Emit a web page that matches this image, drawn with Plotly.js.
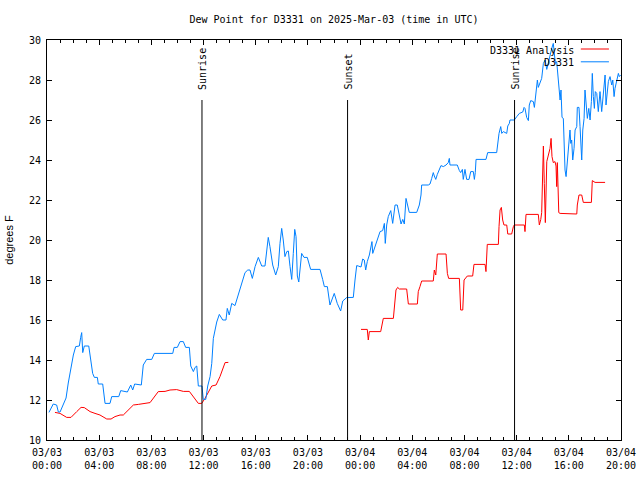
<!DOCTYPE html>
<html>
<head>
<meta charset="utf-8">
<script src="https://cdn.plot.ly/plotly-3.0.1.min.js"></script>
<style>html,body{margin:0;padding:0;background:#fff;}#chart{width:640px;height:480px;}</style>
</head>
<body>
<div id="chart"></div>
<script>
// Hours after 2025-03-03 00:00 UTC
const stationHours = [0.15,0.48,0.74,0.87,1.00,1.46,1.63,1.84,2.02,2.20,2.48,2.58,2.66,2.74,2.86,3.20,3.35,3.50,3.63,3.86,3.93,4.27,4.45,4.83,4.96,5.50,5.65,6.16,6.42,6.57,6.72,7.23,7.38,7.64,8.03,8.23,9.64,9.74,9.99,10.20,10.45,10.63,10.91,11.02,11.22,11.35,11.48,11.60,11.88,11.98,12.17,12.32,12.50,12.63,12.75,12.90,13.01,13.21,13.47,13.72,13.82,13.97,14.16,14.41,14.59,14.80,15.00,15.18,15.39,15.56,15.74,15.95,16.20,16.46,16.71,16.84,16.96,17.09,17.30,17.53,17.73,17.86,17.99,18.11,18.24,18.38,18.50,18.63,18.76,18.88,18.99,19.09,19.19,19.30,19.39,19.52,19.70,19.95,20.21,20.93,21.13,21.26,21.49,21.69,22.02,22.25,22.51,22.67,22.97,23.48,23.61,23.74,23.86,24.07,24.20,24.32,24.43,24.55,24.71,24.81,24.91,24.97,25.14,25.32,25.53,25.73,25.86,25.93,26.04,26.16,26.35,26.50,26.68,26.85,27.01,27.14,27.27,27.39,27.52,27.65,27.77,28.34,28.54,28.67,28.72,29.23,29.36,29.49,29.61,29.69,29.80,29.92,30.05,30.20,30.38,30.59,30.76,30.84,30.89,31.45,31.61,31.71,31.84,31.91,32.04,32.17,32.35,32.48,32.68,32.76,32.83,32.89,33.65,33.78,34.47,34.55,34.65,34.78,34.86,34.98,35.24,35.32,35.44,35.49,35.82,36.01,36.21,36.47,36.57,36.64,36.77,36.90,36.97,37.08,37.28,37.36,37.49,37.59,37.66,37.79,37.92,38.05,38.18,38.31,38.43,38.56,38.69,38.81,38.89,38.97,39.07,39.15,39.23,39.33,39.40,39.48,39.58,39.63,39.71,39.79,39.89,39.96,40.09,40.15,40.22,40.30,40.40,40.48,40.61,40.65,40.78,40.86,40.99,41.07,41.17,41.24,41.32,41.42,41.53,41.63,41.73,41.80,41.88,41.96,42.03,42.14,42.26,42.39,42.52,42.65,42.78,42.85,42.95,43.03,43.16,43.29,43.37,43.47,43.54,43.67,43.80,43.87,43.97];
const stationDewF = [11.38,11.8,11.75,11.4,11.4,12.1,12.85,13.67,14.25,14.67,14.7,15.13,15.37,14.37,14.7,14.7,14.08,13.33,13.13,13.13,12.8,12.8,11.83,11.83,12.17,12.17,12.47,12.4,12.75,12.5,12.8,12.75,13.75,14.03,14.03,14.33,14.33,14.63,14.63,14.92,14.92,14.63,14.63,13.7,13.42,13.63,13.7,12.7,12.7,12.03,12.03,12.7,13.17,13.83,15.08,15.6,15.9,16.28,16.0,16.0,16.58,16.25,16.83,16.72,17.08,17.5,17.92,18.37,18.5,18.5,18.08,18.67,19.13,18.7,18.7,19.33,20.13,19.67,18.75,18.25,18.67,19.83,20.58,20.0,19.17,19.42,19.45,18.67,18.03,19.33,20.53,20.17,18.2,17.9,18.67,19.33,19.13,19.13,18.53,18.53,18.03,17.67,17.67,16.75,17.33,16.83,16.45,16.95,17.12,17.13,18.0,18.72,18.7,18.65,19.05,19.0,18.5,18.92,19.25,19.67,19.92,19.33,19.7,20.0,20.42,20.47,20.83,19.83,20.75,21.17,21.47,20.83,21.75,21.75,21.2,20.8,21.03,20.8,22.08,21.75,21.38,21.38,21.75,22.25,22.75,22.75,22.8,23.08,23.37,23.2,23.03,23.28,23.5,23.72,23.67,23.75,23.87,24.08,23.75,23.75,23.47,23.37,23.53,23.03,23.53,23.03,23.03,23.42,23.42,23.03,23.37,24.03,24.03,24.37,24.37,24.97,25.33,25.67,25.33,25.42,25.33,25.7,25.83,26.0,26.0,26.17,26.33,26.4,26.63,26.58,26.13,25.97,26.75,26.97,26.92,26.63,27.25,28.0,27.63,27.92,28.08,28.83,29.0,28.53,28.92,29.17,29.58,29.83,29.33,28.83,28.92,28.33,27.58,27.0,27.5,26.13,26.08,24.67,23.5,23.17,23.92,24.33,25.5,24.83,25.0,24.0,24.58,25.5,25.67,26.63,26.63,25.67,24.0,25.5,26.08,27.5,26.58,26.08,26.58,26.0,26.92,28.33,27.17,26.58,27.42,27.33,26.42,27.42,26.42,27.42,28.25,26.75,27.33,27.92,28.17,27.75,28.0,27.17,27.58,28.0,28.33,28.17,28.25];

const analysisHours = [0.61,1.00,1.51,1.84,2.28,2.61,2.86,3.30,3.68,4.06,4.58,4.91,5.21,5.60,5.85,6.62,7.00,7.51,7.90,8.53,9.05,9.43,9.94,10.45,10.91,11.60,11.86,12.11,12.37,12.63,12.96,13.26,13.65,13.90,20.00,24.07,24.55,24.63,24.71,25.58,25.66,25.78,26.55,26.62,26.75,26.88,27.01,27.57,27.70,28.39,28.46,28.59,28.72,29.61,29.69,29.80,29.87,29.92,30.59,30.69,30.79,31.61,31.71,31.87,31.97,32.12,32.22,32.63,32.73,33.58,33.65,33.75,34.60,34.65,34.73,34.83,34.93,35.03,35.24,35.32,35.62,35.75,35.82,36.59,36.64,36.72,37.66,37.74,37.85,37.92,38.00,38.05,38.12,38.20,38.31,38.43,38.56,38.64,38.71,38.81,38.94,39.02,39.07,39.12,39.20,39.23,39.33,40.61,40.65,40.78,40.99,41.11,41.73,41.80,42.01,42.78];
const analysisDewF = [11.38,11.33,11.13,11.13,11.42,11.63,11.62,11.42,11.33,11.25,11.05,11.05,11.17,11.25,11.25,11.75,11.78,11.83,11.87,12.42,12.43,12.5,12.52,12.43,12.43,11.83,11.83,12.08,12.37,12.7,12.75,13.17,13.87,13.88,null,15.53,15.53,15.0,15.42,15.42,15.75,16.08,16.08,16.67,17.5,17.63,17.55,17.55,16.8,16.8,17.42,17.67,17.95,17.95,18.5,18.25,18.75,19.3,19.3,18.33,18.08,18.08,16.5,16.5,18.0,18.13,18.2,18.2,18.78,18.78,18.42,19.78,19.78,20.67,21.5,21.63,21.0,20.75,20.75,20.3,20.3,20.67,20.75,20.75,20.42,21.28,21.28,20.75,21.03,21.37,23.17,24.7,22.83,20.87,23.92,24.2,24.58,25.08,24.17,23.87,23.92,23.7,22.67,23.87,22.58,21.37,21.33,21.3,21.75,22.25,22.25,21.88,21.88,22.97,22.88,22.88];

const sunEventHours = [11.88, 23.04, 35.84];
const sunEventLabels = ["Sunrise", "Sunset", "Sunrise"];

const tickHours = [0,4,8,12,16,20,24,28,32,36,40,44];
const tickLabels = ["03/03<br>00:00","03/03<br>04:00","03/03<br>08:00","03/03<br>12:00","03/03<br>16:00","03/03<br>20:00","03/04<br>00:00","03/04<br>04:00","03/04<br>08:00","03/04<br>12:00","03/04<br>16:00","03/04<br>20:00"];

const seriesNames = ["D3331 Analysis", "D3331"];
const seriesColors = ["#ff0000", "#0080ff"];

const BASE = Date.UTC(2025, 2, 3, 0, 0, 0);
function toDate(h) {
  return new Date(BASE + Math.round(h * 3600000)).toISOString().replace('T', ' ').slice(0, 19);
}

const MONO = "DejaVu Sans Mono, monospace";

const traces = [
  {x: analysisHours.map(toDate), y: analysisDewF, name: seriesNames[0], type: 'scatter', mode: 'lines',
   line: {color: seriesColors[0], width: 1}, connectgaps: false, showlegend: false, hoverinfo: 'skip'},
  {x: stationHours.map(toDate), y: stationDewF, name: seriesNames[1], type: 'scatter', mode: 'lines',
   line: {color: seriesColors[1], width: 1}, showlegend: false, hoverinfo: 'skip'}
];

const shapes = sunEventHours.map(h => ({
  type: 'line', xref: 'x', yref: 'paper', x0: toDate(h), x1: toDate(h), y0: 0, y1: 0.85,
  line: {color: '#000', width: 1}
}));

const annotations = sunEventHours.map((h, i) => ({
  xref: 'x', yref: 'paper', x: toDate(h), y: 0.87, text: sunEventLabels[i], textangle: -90,
  showarrow: false, xanchor: 'center', yanchor: 'bottom', font: {family: MONO, size: 10, color: '#000'}
}));

// custom gnuplot-style legend (text on left, sample on right)
const legendY = [0.975, 0.943];
seriesNames.forEach((nm, i) => {
  annotations.push({xref: 'paper', yref: 'paper', x: 0.921, y: legendY[i], text: nm, showarrow: false,
    xanchor: 'right', yanchor: 'middle', font: {family: MONO, size: 10, color: '#000'}});
  shapes.push({type: 'line', xref: 'paper', yref: 'paper', x0: 0.93, x1: 0.979, y0: legendY[i] + 0.0025, y1: legendY[i] + 0.0025,
    line: {color: seriesColors[i], width: 1}});
});

const layout = {
  width: 640, height: 480,
  margin: {l: 47, r: 19, t: 40, b: 40},
  paper_bgcolor: '#fff', plot_bgcolor: '#fff',
  font: {family: MONO, size: 10, color: '#000'},
  title: {text: 'Dew Point for D3331 on 2025-Mar-03 (time in UTC)', x: 0.5, xref: 'paper',
          y: 1 - 19 / 480, yref: 'container', yanchor: 'middle', font: {family: MONO, size: 10, color: '#000'}},
  xaxis: {type: 'date', range: [toDate(0), toDate(44)], tickmode: 'array', tickvals: tickHours.map(toDate),
          ticktext: tickLabels, ticks: 'inside', ticklen: 5, tickcolor: '#000', showgrid: false, zeroline: false,
          showline: true, linecolor: '#000', linewidth: 1, mirror: 'allticks', ticklabelstandoff: 3,
          minor: {tickmode: 'linear', tick0: toDate(0), dtick: 3600000, ticks: 'inside', ticklen: 3, tickcolor: '#000', showgrid: false},
          tickfont: {family: MONO, size: 10, color: '#000'}, fixedrange: true},
  yaxis: {range: [10, 30], dtick: 2, tick0: 10, ticks: 'inside', ticklen: 5, tickcolor: '#000', showgrid: false,
          zeroline: false, showline: true, linecolor: '#000', linewidth: 1, mirror: 'allticks', ticklabelstandoff: 3,
          tickfont: {family: MONO, size: 10, color: '#000'},
          title: {text: 'degrees F', standoff: 13, font: {family: 'Liberation Sans, Arial, sans-serif', size: 11, color: '#000'}}, fixedrange: true},
  shapes: shapes,
  annotations: annotations,
  showlegend: false
};

Plotly.newPlot('chart', traces, layout, {displayModeBar: false, staticPlot: true});
</script>
</body>
</html>
